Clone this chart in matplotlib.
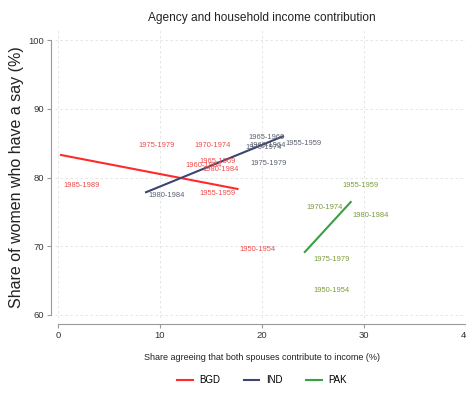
import numpy as np
import matplotlib
matplotlib.use("Agg")
import matplotlib.pyplot as plt
from matplotlib import font_manager

# Cohort points: share agreeing both spouses contribute (x) vs share of women with a say (y)
bgd_x = [7.65, 13.2, 13.7, 12.25, 14.0, 13.7, 0.3, 17.6]
bgd_y = [84.6, 84.6, 82.4, 81.8, 81.1, 77.7, 78.8, 69.5]
bgd_lab = ["1975-1979", "1970-1974", "1965-1969", "1960-1964", "1980-1984",
           "1955-1959", "1985-1989", "1950-1954"]

ind_x = [8.63, 18.5, 18.6, 18.2, 22.06, 18.7]
ind_y = [77.45, 85.75, 84.6, 84.3, 85.0, 82.1]
ind_lab = ["1980-1984", "1965-1969", "1960-1964", "1970-1974", "1955-1959", "1975-1979"]

pak_x = [27.65, 24.2, 28.7, 24.8, 24.8]
pak_y = [78.9, 75.7, 74.4, 68.1, 63.5]
pak_lab = ["1955-1959", "1970-1974", "1980-1984", "1975-1979", "1950-1954"]

countries = ["BGD", "IND", "PAK"]
x_ticks = [0, 10, 20, 30, 40]
y_ticks = [60, 70, 80, 90, 100]

available = {f.name for f in font_manager.fontManager.ttflist}
narrow = "Liberation Sans Narrow" if "Liberation Sans Narrow" in available else "Liberation Sans"
regular = "Liberation Sans"

W, H = 466, 395
fig = plt.figure(figsize=(W / 100, H / 100), dpi=100)
fig.patch.set_facecolor("white")
ax = fig.add_axes([55 / W, 1 - 318 / H, (W - 55) / W, (318 - 28) / H])

series = [
    (bgd_x, bgd_y, bgd_lab, "#ff2a2a", "#f04a4a"),
    (ind_x, ind_y, ind_lab, "#3c4670", "#5a6070"),
    (pak_x, pak_y, pak_lab, "#3aa043", "#7a9a3a"),
]

handles = []
for (xs, ys, labs, lc, tc), name in zip(series, countries):
    xs = np.asarray(xs)
    ys = np.asarray(ys)
    # linear fit over the observed x range
    b, a = np.polyfit(xs, ys, 1)
    fx = np.array([xs.min(), xs.max()])
    h, = ax.plot(fx, a + b * fx, color=lc, lw=1.5, label=name, zorder=3)
    handles.append(h)
    for x, y, t in zip(xs, ys, labs):
        ax.annotate(t, (x, y), xytext=(1.5, 0), textcoords="offset points",
                    ha="left", va="center", fontsize=5.4, color=tc,
                    family=narrow, zorder=4)

ax.set_xlim(-3 / 10.2, 40)
ax.set_ylim(59.56, 101.75)
ax.set_xticks(x_ticks)
ax.set_yticks(y_ticks)
ax.grid(True, color="#e2e2e2", lw=0.6, ls=(0, (3, 3)))
ax.set_axisbelow(True)

for s in ["top", "right"]:
    ax.spines[s].set_visible(False)
ax.spines["left"].set_position(("outward", 3))
ax.spines["bottom"].set_position(("outward", 4.5))
ax.spines["left"].set_bounds(60, 100)
ax.spines["bottom"].set_bounds(0, 40)
for s in ["left", "bottom"]:
    ax.spines[s].set_color("#9a9a9a")
    ax.spines[s].set_linewidth(0.8)
ax.tick_params(axis="both", colors="#9a9a9a", length=3, width=0.8,
               labelcolor="#333333", labelsize=6.8, pad=2)
for lbl in ax.get_xticklabels() + ax.get_yticklabels():
    lbl.set_family(narrow)

fig.text(262 / W, 1 - 18 / H, "Agency and household income contribution",
         ha="center", va="center", fontsize=8.6, family=narrow, color="#222222")
fig.text(262 / W, 1 - 358 / H, "Share agreeing that both spouses contribute to income (%)",
         ha="center", va="center", fontsize=6.5, family=narrow, color="#222222")
fig.text(17 / W, 1 - 177 / H, "Share of women who have a say (%)",
         ha="center", va="center", rotation=90, fontsize=11.5, family=regular, color="#222222")

fig.legend(handles=handles, labels=countries, loc="center",
           bbox_to_anchor=(262 / W, 1 - 380 / H), ncol=3, frameon=False,
           handlelength=1.6, handletextpad=0.7, columnspacing=2.4,
           prop={"family": narrow, "size": 7})

fig.savefig("out.png", dpi=100, facecolor="white")
